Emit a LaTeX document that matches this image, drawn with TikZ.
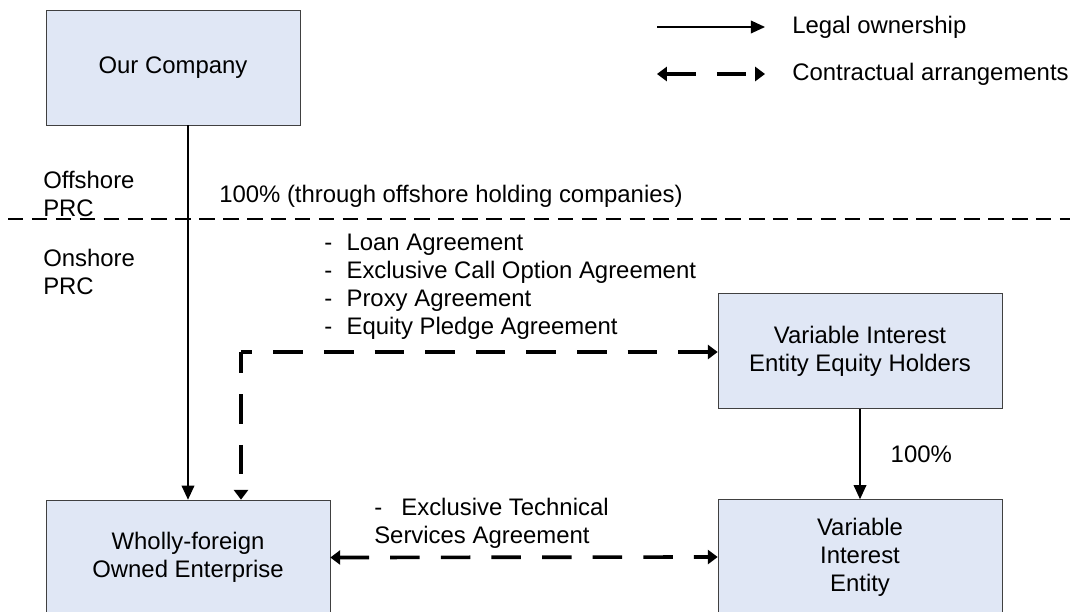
\documentclass[tikz,border=0pt]{standalone}
\usepackage{fontspec}
\setmainfont{Liberation Sans}
\usepackage{tikz}
\usetikzlibrary{arrows.meta}

\definecolor{boxblue}{RGB}{224,231,245}
\definecolor{boxline}{RGB}{64,64,64}

\begin{document}
\begin{tikzpicture}[x=0.025cm, y=-0.025cm,
    font=\fontsize{17}{20}\selectfont,
    >={Triangle[length=7pt,width=10pt]},
    entity/.style={rectangle, draw=boxline, fill=boxblue, align=center,
        minimum width=7.1cm, minimum height=2.875cm},
    lbl/.style={inner sep=0pt, anchor=west, align=left},
    own/.style={-{Triangle[length=10pt,width=9pt]}, line width=1pt},
    contract/.style={line width=2.6pt, dash pattern=on 21pt off 15pt}
    ]
    \path[use as bounding box, fill=white] (0,0) rectangle (1070,611);

    % offshore / onshore split
    \draw[line width=0.8pt, dash pattern=on 11pt off 6pt] (8,219) -- (1070,219);
    \node[lbl] (offshore) at (43,194) {Offshore\\PRC};
    \node[lbl] (onshore) at (43,272) {Onshore\\PRC};

    \node[entity, minimum width=6.35cm] (oc) at (173,67.5) {Our Company};
    \node[entity] (wfoe) at (188,557.5) {Wholly-foreign\\Owned Enterprise};
    \node[entity] (vieh) at (860,351) {Variable Interest\\Entity Equity Holders};
    \node[entity] (vie) at (860,557) {Variable\\Interest\\Entity};

    \draw[own] (oc.south -| wfoe.north) -- (wfoe.north);
    \node[lbl] (pct) at (219,196) {100\% (through offshore holding companies)};
    \draw[own] (vieh.south) -- node[lbl, xshift=0.75cm] (pctvie) {100\%} (vie.north);

    \coordinate (bend) at (241,352);
    \draw[contract, ->, dash phase=6pt] (bend) -- (bend |- wfoe.north);
    \draw[contract, ->, dash phase=13pt] (bend) -- (bend -| vieh.west);
    \node[lbl] (loans) at (324,287) {-\hspace{0.6em}Loan Agreement\\
        -\hspace{0.6em}Exclusive Call Option Agreement\\
        -\hspace{0.6em}Proxy Agreement\\
        -\hspace{0.6em}Equity Pledge Agreement};
    \draw[contract, <->] (wfoe.east) -- (vie.west);
    \node[lbl] (tech) at (374,523) {-\hspace{0.8em}Exclusive Technical\\Services Agreement};

    % legend
    \coordinate (ownA) at (657,27);
    \coordinate (ownB) at (765,27);
    \coordinate (conA) at (657,74);
    \coordinate (conB) at (765,74);
    \draw[own] (ownA) -- (ownB);
    \node[lbl] (ownkey) at (792,27) {Legal ownership};
    \draw[contract, <->] (conA) -- (conB);
    \node[lbl] (conkey) at (792,74) {Contractual arrangements};
\end{tikzpicture}
\end{document}
